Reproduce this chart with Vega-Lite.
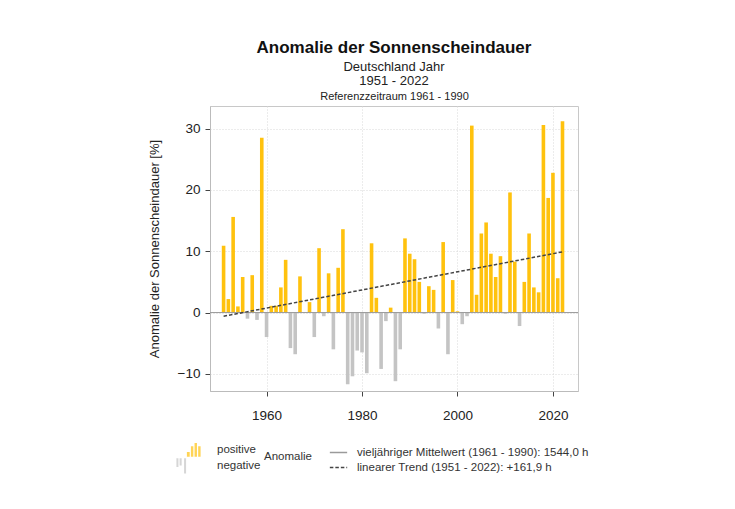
{
  "$schema": "https://vega.github.io/schema/vega-lite/v6.json",
  "autosize": "none",
  "width": 368,
  "height": 285,
  "padding": {"left": 210, "top": 106, "right": 157, "bottom": 118},
  "background": "white",
  "config": {
    "font": "Liberation Sans",
    "view": {"stroke": "#c8c8c8", "strokeWidth": 1},
    "axis": {"labelFont": "Liberation Sans", "titleFont": "Liberation Sans", "labelColor": "#222", "titleColor": "#222", "domainColor": "#bbb", "tickColor": "#444", "gridColor": "#d8d8d8", "gridDash": [1, 2], "labelFontSize": 13.5, "titleFontSize": 13, "titleFontWeight": "normal", "tickSize": 5}
  },
  "title": {
    "text": "Anomalie der Sonnenscheindauer",
    "subtitle": ["Deutschland Jahr", "1951 - 2022"],
    "anchor": "middle",
    "font": "Liberation Sans",
    "fontSize": 17,
    "fontWeight": "bold",
    "color": "#111",
    "subtitleFont": "Liberation Sans",
    "subtitleFontSize": 13,
    "subtitleColor": "#222",
    "subtitlePadding": 4,
    "subtitleLineHeight": 14,
    "offset": 1
  },
  "datasets": {
    "bars": [
      {"year": 1951, "value": 10.9, "a": "positive"},
      {"year": 1952, "value": 2.2, "a": "positive"},
      {"year": 1953, "value": 15.6, "a": "positive"},
      {"year": 1954, "value": 1.0, "a": "positive"},
      {"year": 1955, "value": 5.8, "a": "positive"},
      {"year": 1956, "value": -1.0, "a": "negative"},
      {"year": 1957, "value": 6.1, "a": "positive"},
      {"year": 1958, "value": -1.2, "a": "negative"},
      {"year": 1959, "value": 28.5, "a": "positive"},
      {"year": 1960, "value": -4.0, "a": "negative"},
      {"year": 1961, "value": 1.1, "a": "positive"},
      {"year": 1962, "value": 1.1, "a": "positive"},
      {"year": 1963, "value": 4.1, "a": "positive"},
      {"year": 1964, "value": 8.6, "a": "positive"},
      {"year": 1965, "value": -5.8, "a": "negative"},
      {"year": 1966, "value": -6.8, "a": "negative"},
      {"year": 1967, "value": 5.9, "a": "positive"},
      {"year": 1968, "value": 0.0, "a": "positive"},
      {"year": 1969, "value": 1.7, "a": "positive"},
      {"year": 1970, "value": -4.0, "a": "negative"},
      {"year": 1971, "value": 10.5, "a": "positive"},
      {"year": 1972, "value": -0.6, "a": "negative"},
      {"year": 1973, "value": 6.4, "a": "positive"},
      {"year": 1974, "value": -6.0, "a": "negative"},
      {"year": 1975, "value": 7.3, "a": "positive"},
      {"year": 1976, "value": 13.6, "a": "positive"},
      {"year": 1977, "value": -11.7, "a": "negative"},
      {"year": 1978, "value": -10.4, "a": "negative"},
      {"year": 1979, "value": -6.2, "a": "negative"},
      {"year": 1980, "value": -6.5, "a": "negative"},
      {"year": 1981, "value": -9.9, "a": "negative"},
      {"year": 1982, "value": 11.3, "a": "positive"},
      {"year": 1983, "value": 2.4, "a": "positive"},
      {"year": 1984, "value": -9.2, "a": "negative"},
      {"year": 1985, "value": -1.4, "a": "negative"},
      {"year": 1986, "value": 0.8, "a": "positive"},
      {"year": 1987, "value": -11.2, "a": "negative"},
      {"year": 1988, "value": -6.0, "a": "negative"},
      {"year": 1989, "value": 12.1, "a": "positive"},
      {"year": 1990, "value": 9.6, "a": "positive"},
      {"year": 1991, "value": 8.7, "a": "positive"},
      {"year": 1992, "value": 5.0, "a": "positive"},
      {"year": 1993, "value": -0.2, "a": "negative"},
      {"year": 1994, "value": 4.3, "a": "positive"},
      {"year": 1995, "value": 3.7, "a": "positive"},
      {"year": 1996, "value": -2.6, "a": "negative"},
      {"year": 1997, "value": 11.5, "a": "positive"},
      {"year": 1998, "value": -6.8, "a": "negative"},
      {"year": 1999, "value": 5.3, "a": "positive"},
      {"year": 2000, "value": 0.2, "a": "positive"},
      {"year": 2001, "value": -1.9, "a": "negative"},
      {"year": 2002, "value": -0.6, "a": "negative"},
      {"year": 2003, "value": 30.5, "a": "positive"},
      {"year": 2004, "value": 2.9, "a": "positive"},
      {"year": 2005, "value": 12.9, "a": "positive"},
      {"year": 2006, "value": 14.7, "a": "positive"},
      {"year": 2007, "value": 9.6, "a": "positive"},
      {"year": 2008, "value": 5.8, "a": "positive"},
      {"year": 2009, "value": 9.2, "a": "positive"},
      {"year": 2010, "value": -0.2, "a": "negative"},
      {"year": 2011, "value": 19.6, "a": "positive"},
      {"year": 2012, "value": 8.3, "a": "positive"},
      {"year": 2013, "value": -2.2, "a": "negative"},
      {"year": 2014, "value": 5.0, "a": "positive"},
      {"year": 2015, "value": 12.9, "a": "positive"},
      {"year": 2016, "value": 4.1, "a": "positive"},
      {"year": 2017, "value": 3.3, "a": "positive"},
      {"year": 2018, "value": 30.6, "a": "positive"},
      {"year": 2019, "value": 18.7, "a": "positive"},
      {"year": 2020, "value": 22.8, "a": "positive"},
      {"year": 2021, "value": 5.6, "a": "positive"},
      {"year": 2022, "value": 31.2, "a": "positive"}
    ],
    "lines": [
      {"series": "vieljähriger Mittelwert (1961 - 1990): 1544,0 h", "year": 1951, "value": 0},
      {"series": "linearer Trend (1951 - 2022): +161,9 h", "year": 1951, "value": -0.6},
      {"series": "linearer Trend (1951 - 2022): +161,9 h", "year": 2022, "value": 9.9}
    ]
  },
  "resolve": {"axis": {"x": "independent"}},
  "layer": [
    {
      "data": {"name": "bars"},
      "mark": {"type": "bar", "width": 3.6},
      "encoding": {
        "x": {"field": "year", "type": "quantitative", "scale": {"domain": [1949.2, 2024.2], "nice": false, "zero": false},
          "axis": {"title": null, "values": [1960, 1980, 2000, 2020], "format": "d", "labelPadding": 12, "grid": true}},
        "y": {"field": "value", "type": "quantitative", "scale": {"domain": [-12.8, 33.7], "nice": false},
          "axis": {"title": "Anomalie der Sonnenscheindauer [%]", "values": [-10, 0, 10, 20, 30], "labelPadding": 5, "titlePadding": 16, "grid": true}},
        "fill": {"field": "a", "type": "nominal", "scale": {"domain": ["positive", "negative"], "range": ["#FFC20E", "#c4c4c4"]},
          "legend": {"title": "Anomalie", "orient": "none", "legendX": -30, "legendY": 335, "titleOrient": "right", "titleFontWeight": "normal", "titleFontSize": 11.5, "titleColor": "#333", "titleFont": "Liberation Sans", "titleBaseline": "middle", "titlePadding": 4, "labelFontSize": 11.5, "labelColor": "#333", "labelFont": "Liberation Sans", "symbolSize": 260, "symbolStrokeWidth": 0, "rowPadding": -2, "labelOffset": 20}}
      }
    },
    {
      "data": {"name": "bars"},
      "transform": [{"filter": "datum.year < 0"}],
      "mark": {"type": "point", "filled": true},
      "encoding": {
        "x": {"field": "year", "type": "quantitative", "axis": {"orient": "top", "title": "Referenzzeitraum 1961 - 1990", "titleFontSize": 11, "titlePadding": 5, "labels": false, "ticks": false, "domain": false, "grid": false}},
        "y": {"field": "value", "type": "quantitative"},
        "fill": {"field": "a", "type": "nominal"},
        "shape": {"field": "a", "type": "nominal", "scale": {"domain": ["positive", "negative"], "range": ["M-0.2,0.9V0.3H0.15V0.9Z M0.3,0.9V-0.4H0.6V0.9Z M0.75,0.9V-0.8H1.05V0.9Z M1.2,0.9V-0.4H1.5V0.9Z", "M-1.5,-0.9V0.2H-1.25V-0.9Z M-1.1,-0.9V0.0H-0.85V-0.9Z M-0.55,-0.9V1.0H-0.3V-0.9Z"]}}
      }
    },
    {
      "data": {"name": "lines"},
      "transform": [{"filter": "datum.year == 1951 && datum.value == 0"}],
      "mark": {"type": "rule", "strokeWidth": 1},
      "encoding": {
        "y": {"field": "value", "type": "quantitative"},
        "stroke": {"field": "series", "type": "nominal", "scale": {"domain": ["vieljähriger Mittelwert (1961 - 1990): 1544,0 h", "linearer Trend (1951 - 2022): +161,9 h"], "range": ["#9a9a9a", "#444444"]},
          "legend": {"title": null, "orient": "none", "legendX": 119, "legendY": 337, "labelFontSize": 11.5, "labelColor": "#333", "labelFont": "Liberation Sans", "symbolSize": 300, "rowPadding": 0, "labelOffset": 9, "labelLimit": 400}},
        "strokeDash": {"field": "series", "type": "nominal", "scale": {"domain": ["vieljähriger Mittelwert (1961 - 1990): 1544,0 h", "linearer Trend (1951 - 2022): +161,9 h"], "range": [[1, 0], [3.5, 2]]}}
      }
    },
    {
      "data": {"name": "lines"},
      "transform": [{"filter": "datum.series == 'linearer Trend (1951 - 2022): +161,9 h'"}],
      "mark": {"type": "line", "strokeWidth": 1.5},
      "encoding": {
        "x": {"field": "year", "type": "quantitative", "axis": null},
        "y": {"field": "value", "type": "quantitative"},
        "stroke": {"field": "series", "type": "nominal"},
        "strokeDash": {"field": "series", "type": "nominal"}
      }
    }
  ]
}
